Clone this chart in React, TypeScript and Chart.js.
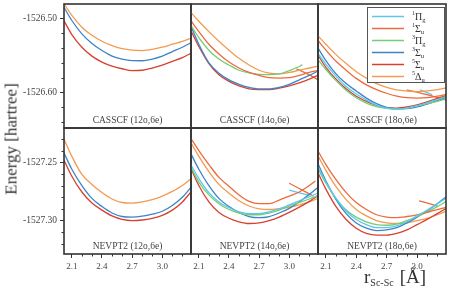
import React, { useEffect, useRef } from 'react';
import { Chart, registerables } from 'chart.js';
Chart.register(...registerables);

// ---------- data ----------
const R = [2.0, 2.1, 2.2, 2.3, 2.4, 2.5, 2.6, 2.7, 2.8, 2.9, 3.0, 3.1, 3.2, 3.3];

// legend states: 1Πg, 1Σu, 3Πg, 3Σu, 5Σu, 5Δu
const STATE_SUP = ['1', '1', '3', '3', '5', '5'];
const STATE_MAIN = ['Π', 'Σ', 'Π', 'Σ', 'Σ', 'Δ'];
const STATE_SUB = ['g', 'u', 'g', 'u', 'u', 'u'];
const STATE_COLORS = ['#5cc8ec', '#ec6a3c', '#74cc78', '#3d84c6', '#d8412e', '#f39a50'];

// CASSCF (12o,6e)
const cas12_5Du = [-1526.476, -1526.496, -1526.512, -1526.523, -1526.531, -1526.537, -1526.541, -1526.543, -1526.5435, -1526.542, -1526.539, -1526.535, -1526.531, -1526.526];
const cas12_3Su = [-1526.480, -1526.503, -1526.521, -1526.534, -1526.5435, -1526.551, -1526.555, -1526.557, -1526.5572, -1526.555, -1526.551, -1526.545, -1526.539, -1526.532];
const cas12_5Su = [-1526.498, -1526.522, -1526.539, -1526.551, -1526.559, -1526.5645, -1526.568, -1526.5705, -1526.570, -1526.567, -1526.563, -1526.558, -1526.553, -1526.546];

// CASSCF (14o,6e)
const cas14_1Su = [-1526.499, -1526.518, -1526.535, -1526.548, -1526.559, -1526.567, -1526.573, -1526.577, -1526.580, -1526.5805, -1526.580, -1526.577, -1526.573, -1526.570];
const cas14_3Pg_r = [2.0, 2.1, 2.2, 2.3, 2.4, 2.5, 2.6, 2.7, 2.8, 2.9, 3.0, 3.1, 3.13];
const cas14_3Pg = [-1526.505, -1526.526, -1526.543, -1526.555, -1526.563, -1526.570, -1526.5735, -1526.5755, -1526.576, -1526.575, -1526.5705, -1526.565, -1526.5625];
const cas14_3Su = [-1526.504, -1526.535, -1526.560, -1526.574, -1526.583, -1526.589, -1526.593, -1526.595, -1526.595, -1526.593, -1526.589, -1526.583, -1526.577, -1526.570];
const cas14_5Su = [-1526.511, -1526.538, -1526.561, -1526.576, -1526.585, -1526.591, -1526.595, -1526.596, -1526.596, -1526.594, -1526.591, -1526.587, -1526.582, -1526.576];
const cas14_5Du = [-1526.489, -1526.504, -1526.518, -1526.531, -1526.543, -1526.554, -1526.563, -1526.570, -1526.574, -1526.575, -1526.573, -1526.570, -1526.567, -1526.564];
const cas14_1Su_seg_r = [3.07, 3.18, 3.29];
const cas14_1Su_seg = [-1526.568, -1526.575, -1526.583];

// CASSCF (18o,6e)
const cas18_1Pg = [-1526.543, -1526.562, -1526.578, -1526.592, -1526.602, -1526.610, -1526.617, -1526.621, -1526.6225, -1526.621, -1526.618, -1526.614, -1526.6095, -1526.605];
const cas18_1Su = [-1526.526, -1526.543, -1526.558, -1526.570, -1526.581, -1526.5897, -1526.596, -1526.601, -1526.6048, -1526.607, -1526.6075, -1526.607, -1526.605, -1526.602];
const cas18_3Pg = [-1526.552, -1526.569, -1526.584, -1526.597, -1526.607, -1526.6142, -1526.619, -1526.6215, -1526.6222, -1526.621, -1526.6178, -1526.615, -1526.612, -1526.608];
const cas18_3Su = [-1526.535, -1526.557, -1526.575, -1526.588, -1526.598, -1526.6075, -1526.615, -1526.620, -1526.622, -1526.6218, -1526.6195, -1526.6155, -1526.611, -1526.606];
const cas18_5Su = [-1526.545, -1526.566, -1526.582, -1526.595, -1526.605, -1526.612, -1526.6175, -1526.6205, -1526.621, -1526.6195, -1526.6165, -1526.6125, -1526.608, -1526.6035];
const cas18_5Du = [-1526.5205, -1526.535, -1526.549, -1526.561, -1526.572, -1526.5806, -1526.588, -1526.593, -1526.5965, -1526.598, -1526.5987, -1526.5978, -1526.596, -1526.5935];
const cas18_1Su_seg_r = [2.9, 3.1, 3.29];
const cas18_1Su_seg = [-1526.5964, -1526.603, -1526.6105];
const cas18_1Pg_seg_r = [3.03, 3.15];
const cas18_1Pg_seg = [-1526.5964, -1526.6031];

// NEVPT2 (12o,6e)
const nev12_5Du = [-1527.226, -1527.245, -1527.2605, -1527.269, -1527.276, -1527.2815, -1527.2845, -1527.285, -1527.284, -1527.282, -1527.279, -1527.275, -1527.270, -1527.263];
const nev12_3Su = [-1527.238, -1527.256, -1527.270, -1527.281, -1527.288, -1527.2935, -1527.2965, -1527.297, -1527.2962, -1527.2945, -1527.292, -1527.287, -1527.280, -1527.270];
const nev12_5Su = [-1527.244, -1527.262, -1527.2755, -1527.285, -1527.291, -1527.296, -1527.299, -1527.300, -1527.2995, -1527.298, -1527.2955, -1527.291, -1527.284, -1527.274];

// NEVPT2 (14o,6e)
const nev14_1Pg = [-1527.249, -1527.264, -1527.276, -1527.284, -1527.289, -1527.2925, -1527.294, -1527.294, -1527.2925, -1527.290, -1527.2865, -1527.283, -1527.2795, -1527.276];
const nev14_1Su_r = [2.0, 2.1, 2.2, 2.3, 2.4, 2.5, 2.6, 2.7, 2.8, 2.9, 3.0, 3.1, 3.2, 3.26];
const nev14_1Su = [-1527.227, -1527.240, -1527.252, -1527.263, -1527.2705, -1527.278, -1527.2835, -1527.2855, -1527.2855, -1527.2825, -1527.279, -1527.2755, -1527.270, -1527.266];
const nev14_3Pg = [-1527.251, -1527.267, -1527.278, -1527.2855, -1527.2905, -1527.2935, -1527.295, -1527.295, -1527.2935, -1527.291, -1527.2875, -1527.2845, -1527.2815, -1527.278];
const nev14_3Su = [-1527.239, -1527.256, -1527.270, -1527.281, -1527.288, -1527.293, -1527.2965, -1527.2975, -1527.2965, -1527.2935, -1527.2895, -1527.284, -1527.2775, -1527.2705];
const nev14_5Su = [-1527.251, -1527.270, -1527.284, -1527.293, -1527.298, -1527.301, -1527.3025, -1527.302, -1527.300, -1527.297, -1527.293, -1527.2885, -1527.2835, -1527.278];
const nev14_5Du = [-1527.230, -1527.245, -1527.258, -1527.269, -1527.2765, -1527.283, -1527.2875, -1527.290, -1527.2905, -1527.2897, -1527.2885, -1527.2865, -1527.284, -1527.2805];
const nev14_1Su_seg_r = [3.0, 3.12, 3.24];
const nev14_1Su_seg = [-1527.268, -1527.2735, -1527.279];
const nev14_1Pg_seg_r = [3.0, 3.2];
const nev14_1Pg_seg = [-1527.274, -1527.2785];

// NEVPT2 (18o,6e)
const nev18_1Pg = [-1527.250, -1527.267, -1527.281, -1527.292, -1527.299, -1527.3035, -1527.306, -1527.306, -1527.3045, -1527.301, -1527.296, -1527.291, -1527.2855, -1527.280];
const nev18_1Su = [-1527.237, -1527.252, -1527.265, -1527.276, -1527.2845, -1527.2905, -1527.295, -1527.297, -1527.2975, -1527.2965, -1527.295, -1527.293, -1527.2905, -1527.2885];
const nev18_3Pg = [-1527.252, -1527.268, -1527.281, -1527.291, -1527.297, -1527.301, -1527.3035, -1527.304, -1527.303, -1527.300, -1527.2965, -1527.2925, -1527.288, -1527.283];
const nev18_3Su = [-1527.247, -1527.266, -1527.282, -1527.294, -1527.302, -1527.3065, -1527.3085, -1527.308, -1527.306, -1527.302, -1527.297, -1527.2915, -1527.2855, -1527.279];
const nev18_5Su = [-1527.255, -1527.273, -1527.288, -1527.299, -1527.3065, -1527.311, -1527.3125, -1527.3125, -1527.311, -1527.308, -1527.3035, -1527.299, -1527.294, -1527.289];
const nev18_5Du = [-1527.241, -1527.257, -1527.271, -1527.282, -1527.2905, -1527.296, -1527.300, -1527.302, -1527.3025, -1527.302, -1527.300, -1527.298, -1527.295, -1527.2915];
const nev18_1Su_seg_r = [3.02, 3.12, 3.2];
const nev18_1Su_seg = [-1527.283, -1527.2855, -1527.2875];

// axis ranges & ticks
const X_RANGE = [2.022, 3.286];
const Y_RANGE_TOP = [-1526.6478, -1526.4808];
const Y_RANGE_BOT = [-1527.3286, -1527.2207];
const X_MAJOR = [2.1, 2.4, 2.7, 3.0];
const X_MINOR = [2.2, 2.3, 2.5, 2.6, 2.8, 2.9, 3.1, 3.2];
const Y_MAJOR_TOP = [-1526.60, -1526.50];
const Y_MAJOR_BOT = [-1527.30, -1527.25];
const Y_MINOR_TOP = [-1526.52, -1526.54, -1526.56, -1526.58, -1526.62, -1526.64];
const Y_MINOR_BOT = [-1527.23, -1527.24, -1527.26, -1527.27, -1527.28, -1527.29, -1527.31, -1527.32];

type Series = [number, number[], number[]];

const PANELS: { title: string; row: number; col: number; series: Series[] }[] = [
  { title: 'CASSCF (12o,6e)', row: 0, col: 0, series: [[3, R, cas12_3Su], [4, R, cas12_5Su], [5, R, cas12_5Du]] },
  { title: 'CASSCF (14o,6e)', row: 0, col: 1, series: [[1, R, cas14_1Su], [2, cas14_3Pg_r, cas14_3Pg], [3, R, cas14_3Su], [4, R, cas14_5Su], [5, R, cas14_5Du], [1, cas14_1Su_seg_r, cas14_1Su_seg]] },
  { title: 'CASSCF (18o,6e)', row: 0, col: 2, series: [[0, R, cas18_1Pg], [1, R, cas18_1Su], [2, R, cas18_3Pg], [3, R, cas18_3Su], [4, R, cas18_5Su], [5, R, cas18_5Du], [1, cas18_1Su_seg_r, cas18_1Su_seg], [0, cas18_1Pg_seg_r, cas18_1Pg_seg]] },
  { title: 'NEVPT2 (12o,6e)', row: 1, col: 0, series: [[3, R, nev12_3Su], [4, R, nev12_5Su], [5, R, nev12_5Du]] },
  { title: 'NEVPT2 (14o,6e)', row: 1, col: 1, series: [[0, R, nev14_1Pg], [1, nev14_1Su_r, nev14_1Su], [2, R, nev14_3Pg], [3, R, nev14_3Su], [4, R, nev14_5Su], [5, R, nev14_5Du], [1, nev14_1Su_seg_r, nev14_1Su_seg], [0, nev14_1Pg_seg_r, nev14_1Pg_seg]] },
  { title: 'NEVPT2 (18o,6e)', row: 1, col: 2, series: [[0, R, nev18_1Pg], [1, R, nev18_1Su], [2, R, nev18_3Pg], [3, R, nev18_3Su], [4, R, nev18_5Su], [5, R, nev18_5Du], [1, nev18_1Su_seg_r, nev18_1Su_seg]] },
];

// ---------- layout ----------
const COL_L = [64, 191, 318];
const COL_R = [191, 318, 446];
const ROW_T = [4, 128];
const ROW_B = [128, 254];
const PAD = 3;
const X_AXIS_H = 36;
const SERIF = '"Liberation Serif", "DejaVu Serif", serif';
const FRAME = '#333333';

const decorPlugin = {
  id: 'decor',
  afterDatasetsDraw(chart: any, _args: any, opts: any) {
    const { ctx, chartArea: a } = chart;
    ctx.save();
    // panel title
    ctx.fillStyle = '#444';
    ctx.font = `9.5px ${SERIF}`;
    ctx.textAlign = 'center';
    ctx.textBaseline = 'middle';
    ctx.fillText(opts.title, (a.left + a.right) / 2, a.bottom - 7.5);
    // minor ticks
    ctx.strokeStyle = FRAME;
    ctx.lineWidth = 1;
    if (opts.showX) {
      const xs = chart.scales.x;
      for (const v of X_MINOR) {
        const px = Math.round(xs.getPixelForValue(v)) + 0.5;
        ctx.beginPath();
        ctx.moveTo(px, a.bottom);
        ctx.lineTo(px, a.bottom + 2.5);
        ctx.stroke();
      }
    }
    if (opts.showY) {
      const ys = chart.scales.y;
      for (const v of opts.yMinor as number[]) {
        const py = Math.round(ys.getPixelForValue(v)) + 0.5;
        if (py < a.top || py > a.bottom) continue;
        ctx.beginPath();
        ctx.moveTo(a.left, py);
        ctx.lineTo(a.left - 2.5, py);
        ctx.stroke();
      }
    }
    // frame
    ctx.strokeStyle = FRAME;
    ctx.lineWidth = 1.6;
    ctx.strokeRect(a.left, a.top, a.right - a.left, a.bottom - a.top);
    // legend
    if (opts.legend) {
      const bx = a.left + 49;
      const by = a.top + 3;
      const bw = a.right - 1 - bx;
      const bh = 76;
      ctx.fillStyle = '#ffffff';
      ctx.fillRect(bx, by, bw, bh);
      ctx.strokeStyle = '#555';
      ctx.lineWidth = 1;
      ctx.strokeRect(bx + 0.5, by + 0.5, bw - 1, bh - 1);
      for (let i = 0; i < STATE_MAIN.length; i++) {
        const y = by + 9.5 + i * 12;
        ctx.strokeStyle = STATE_COLORS[i];
        ctx.lineWidth = 1.5;
        ctx.beginPath();
        ctx.moveTo(bx + 5, y);
        ctx.lineTo(bx + 37, y);
        ctx.stroke();
        ctx.fillStyle = '#333';
        ctx.textAlign = 'left';
        ctx.textBaseline = 'alphabetic';
        ctx.font = `6px ${SERIF}`;
        ctx.fillText(STATE_SUP[i], bx + 45, y - 1.5);
        ctx.font = `10px ${SERIF}`;
        const mx = bx + 48;
        ctx.fillText(STATE_MAIN[i], mx, y + 3);
        const mw = ctx.measureText(STATE_MAIN[i]).width;
        ctx.font = `6.5px ${SERIF}`;
        ctx.fillText(STATE_SUB[i], mx + mw, y + 5.5);
      }
    }
    ctx.restore();
  },
};

function Panel({ p }: { p: (typeof PANELS)[number] }) {
  const ref = useRef<HTMLCanvasElement>(null);
  const isLeft = p.col === 0;
  const isBottom = p.row === 1;
  const L = COL_L[p.col];
  const Rr = COL_R[p.col];
  const T = ROW_T[p.row];
  const B = ROW_B[p.row];
  const canvasLeft = isLeft ? 0 : L - PAD;
  const padLeft = isLeft ? 0 : PAD;
  const width = (isLeft ? L : PAD) + (Rr - L) + PAD;
  const canvasTop = T - PAD;
  const height = PAD + (B - T) + (isBottom ? X_AXIS_H : PAD);
  const yRange = p.row === 0 ? Y_RANGE_TOP : Y_RANGE_BOT;
  const yMajor = p.row === 0 ? Y_MAJOR_TOP : Y_MAJOR_BOT;

  useEffect(() => {
    const datasets = p.series.map(([state, rs, es]) => ({
      data: rs.map((x, i) => ({ x, y: es[i] })),
      borderColor: STATE_COLORS[state],
      backgroundColor: STATE_COLORS[state],
      borderWidth: 1.3,
      pointRadius: 0,
      fill: false,
      cubicInterpolationMode: 'monotone' as const,
    }));
    const chart = new Chart(ref.current!, {
      type: 'line',
      data: { datasets },
      plugins: [decorPlugin],
      options: {
        animation: false,
        responsive: false,
        maintainAspectRatio: false,
        events: [],
        layout: { padding: { left: padLeft, right: PAD, top: PAD, bottom: isBottom ? 0 : PAD } },
        plugins: {
          legend: { display: false },
          tooltip: { enabled: false },
          title: { display: false },
          decor: { title: p.title, showX: isBottom, showY: isLeft, legend: p.row === 0 && p.col === 2, yMinor: p.row === 0 ? Y_MINOR_TOP : Y_MINOR_BOT },
        } as any,
        scales: {
          x: {
            type: 'linear',
            min: X_RANGE[0],
            max: X_RANGE[1],
            bounds: 'data',
            display: isBottom,
            afterBuildTicks: (s: any) => { s.ticks = X_MAJOR.map((v) => ({ value: v })); },
            afterFit: (s: any) => {
              s.paddingLeft = 0;
              s.paddingRight = 0;
              if (isBottom) s.height = X_AXIS_H;
            },
            border: { display: false },
            grid: { drawOnChartArea: false, drawTicks: true, tickLength: 4, tickColor: FRAME, tickWidth: 1 },
            ticks: {
              autoSkip: false,
              maxRotation: 0,
              padding: 3,
              color: '#444',
              font: { family: SERIF, size: 9 },
              callback: (v: any) => Number(v).toFixed(1),
            },
          },
          y: {
            type: 'linear',
            min: yRange[0],
            max: yRange[1],
            bounds: 'data',
            display: isLeft,
            afterBuildTicks: (s: any) => { s.ticks = yMajor.map((v) => ({ value: v })); },
            afterFit: (s: any) => {
              s.paddingTop = 0;
              s.paddingBottom = 0;
              if (isLeft) s.width = L;
            },
            border: { display: false },
            grid: { drawOnChartArea: false, drawTicks: true, tickLength: 4, tickColor: FRAME, tickWidth: 1 },
            ticks: {
              autoSkip: false,
              padding: 3,
              color: '#444',
              font: { family: SERIF, size: 9.5 },
              callback: (v: any) => Number(v).toFixed(2),
            },
          },
        },
      } as any,
    });
    return () => chart.destroy();
  }, []);

  return (
    <canvas
      ref={ref}
      width={width}
      height={height}
      style={{ position: 'absolute', left: canvasLeft, top: canvasTop, width, height }}
    />
  );
}

export default function App() {
  return (
    <div style={{ position: 'absolute', left: 0, top: 0, width: 453, height: 292, background: '#fff', overflow: 'hidden' }}>
      {PANELS.map((p, i) => (
        <Panel key={i} p={p} />
      ))}
      <div
        style={{
          position: 'absolute',
          left: 11,
          top: 139,
          transform: 'translate(-50%, -50%) rotate(-90deg)',
          whiteSpace: 'nowrap',
          fontFamily: SERIF,
          fontSize: 17,
          color: '#333',
          lineHeight: 1,
        }}
      >
        Energy [hartree]
      </div>
      <div
        style={{
          position: 'absolute',
          left: 364,
          top: 266,
          whiteSpace: 'nowrap',
          fontFamily: SERIF,
          fontSize: 19,
          color: '#333',
          lineHeight: '22px',
        }}
      >
        r<sub style={{ fontSize: 10, verticalAlign: '-3px' }}>Sc-Sc</sub>
        <span style={{ marginLeft: 6 }}>[Å]</span>
      </div>
    </div>
  );
}
